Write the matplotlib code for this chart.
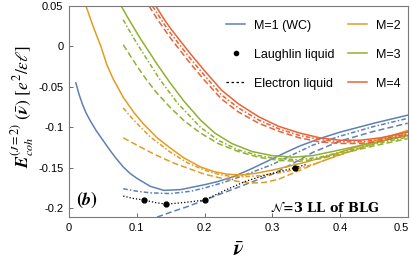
import matplotlib
matplotlib.use("Agg")
import matplotlib.pyplot as plt
import matplotlib.transforms as mtransforms
from matplotlib.lines import Line2D

# ======================
# DATA
# ======================
C_BLUE = "#5E81B5"
C_ORANGE = "#E19C24"
C_GREEN = "#8FB131"
C_RED = "#EB6235"

# M=1
m1_x = [0.01, 0.015, 0.02, 0.025, 0.03, 0.04, 0.05, 0.06, 0.07, 0.08, 0.09, 0.1, 0.12, 0.14, 0.165, 0.2,
        0.22, 0.243, 0.27, 0.3, 0.32, 0.341, 0.37, 0.4, 0.45, 0.5]
m1_y = [-0.045, -0.06, -0.072, -0.082, -0.09, -0.104, -0.116, -0.128, -0.139, -0.149, -0.157, -0.163,
        -0.173, -0.178, -0.177, -0.171, -0.167, -0.161, -0.151, -0.139, -0.131, -0.123, -0.114, -0.106,
        -0.095, -0.085]
m1_dd_x = [0.08, 0.1, 0.12, 0.15, 0.18, 0.2, 0.225, 0.25, 0.275, 0.3, 0.33, 0.36, 0.4, 0.45, 0.5]
m1_dd_y = [-0.176, -0.179, -0.181, -0.182, -0.179, -0.175, -0.169, -0.162, -0.154, -0.146, -0.134,
           -0.122, -0.111, -0.099, -0.089]
m1_d_x = [0.13, 0.15, 0.175, 0.2, 0.225, 0.25, 0.275, 0.3, 0.33, 0.36, 0.4, 0.45, 0.5]
m1_d_y = [-0.211, -0.205, -0.198, -0.19, -0.182, -0.174, -0.166, -0.158, -0.145, -0.131, -0.117,
          -0.105, -0.095]

# M=2
m2_x = [0.025, 0.03, 0.035, 0.04, 0.047, 0.056, 0.065, 0.08, 0.096, 0.11, 0.13, 0.15, 0.17, 0.194,
        0.215, 0.234, 0.255, 0.275, 0.3, 0.35, 0.4, 0.45, 0.5]
m2_y = [0.05, 0.038, 0.026, 0.015, 0.0, -0.023, -0.04, -0.063, -0.082, -0.096, -0.113, -0.126, -0.138,
        -0.149, -0.155, -0.158, -0.159, -0.157, -0.153, -0.143, -0.131, -0.117, -0.104]
m2_dd_x = [0.08, 0.09, 0.1, 0.12, 0.15, 0.175, 0.2, 0.22, 0.24, 0.26, 0.28, 0.32, 0.36, 0.4, 0.45, 0.5]
m2_dd_y = [-0.076, -0.086, -0.095, -0.112, -0.131, -0.144, -0.153, -0.158, -0.161, -0.161, -0.16,
           -0.155, -0.146, -0.134, -0.12, -0.105]
m2_d_x = [0.08, 0.1, 0.125, 0.154, 0.18, 0.2, 0.225, 0.25, 0.27, 0.29, 0.31, 0.341, 0.37, 0.4, 0.45, 0.5]
m2_d_y = [-0.113, -0.122, -0.133, -0.144, -0.152, -0.158, -0.163, -0.167, -0.169, -0.168, -0.164,
          -0.153, -0.143, -0.134, -0.12, -0.108]

# M=3
m3_x = [0.077, 0.085, 0.095, 0.105, 0.116, 0.13, 0.15, 0.17, 0.194, 0.215, 0.24, 0.27, 0.3, 0.33, 0.36,
        0.4, 0.45, 0.5]
m3_y = [0.05, 0.038, 0.024, 0.01, -0.004, -0.022, -0.046, -0.068, -0.091, -0.107, -0.12, -0.13, -0.135,
        -0.137, -0.135, -0.128, -0.119, -0.11]
m3_dd_x = [0.08, 0.09, 0.1, 0.115, 0.135, 0.16, 0.194, 0.22, 0.25, 0.28, 0.31, 0.34, 0.37, 0.4, 0.45, 0.5]
m3_dd_y = [0.033, 0.018, 0.004, -0.016, -0.042, -0.07, -0.1, -0.116, -0.128, -0.135, -0.139, -0.14,
           -0.137, -0.131, -0.121, -0.112]
m3_d_x = [0.08, 0.09, 0.1, 0.115, 0.13, 0.15, 0.17, 0.194, 0.22, 0.25, 0.28, 0.31, 0.34, 0.37, 0.4,
          0.45, 0.5]
m3_d_y = [0.002, -0.011, -0.024, -0.042, -0.058, -0.076, -0.092, -0.107, -0.12, -0.13, -0.137, -0.141,
          -0.142, -0.139, -0.133, -0.123, -0.114]

# M=4
m4_x = [0.128, 0.14, 0.15, 0.165, 0.18, 0.2, 0.225, 0.25, 0.28, 0.31, 0.34, 0.37, 0.4, 0.43, 0.46, 0.5]
m4_y = [0.05, 0.034, 0.022, 0.006, -0.01, -0.03, -0.054, -0.071, -0.087, -0.099, -0.107, -0.113, -0.116,
        -0.116, -0.113, -0.106]
m4_dd_x = [0.123, 0.14, 0.15, 0.165, 0.18, 0.2, 0.225, 0.25, 0.28, 0.31, 0.34, 0.37, 0.4, 0.43, 0.46, 0.5]
m4_dd_y = [0.05, 0.028, 0.016, 0.0, -0.016, -0.036, -0.06, -0.076, -0.091, -0.102, -0.11, -0.115, -0.118,
           -0.118, -0.115, -0.108]
m4_d_x = [0.118, 0.13, 0.14, 0.15, 0.165, 0.18, 0.2, 0.225, 0.25, 0.28, 0.31, 0.34, 0.37, 0.4, 0.43,
          0.46, 0.5]
m4_d_y = [0.05, 0.034, 0.022, 0.01, -0.006, -0.022, -0.042, -0.065, -0.081, -0.095, -0.105, -0.113,
          -0.118, -0.12, -0.12, -0.117, -0.11]

# Laughlin liquid at nu = 1/9, 1/7, 1/5, 1/3
laughlin_x = [1 / 9, 1 / 7, 1 / 5, 1 / 3]
laughlin_y = [-0.190, -0.195, -0.190, -0.150]

# Electron liquid
el_x = [0.08, 0.095, 1 / 9, 0.127, 1 / 7, 0.17, 0.2, 0.23, 0.26, 0.29, 0.31, 1 / 3, 0.35]
el_y = [-0.185, -0.188, -0.190, -0.193, -0.195, -0.193, -0.190, -0.178, -0.167, -0.159, -0.155, -0.150, -0.146]

x_ticks = [0, 0.1, 0.2, 0.3, 0.4, 0.5]
x_ticklabels = ["0", "0.1", "0.2", "0.3", "0.4", "0.5"]
y_ticks = [0.05, 0, -0.05, -0.1, -0.15, -0.2]
y_ticklabels = ["0.05", "0", "-0.05", "-0.1", "-0.15", "-0.2"]

# ======================
# PLOT
# ======================
plt.rcParams["font.family"] = ["Liberation Sans", "DejaVu Sans"]
plt.rcParams["mathtext.fontset"] = "stix"

fig = plt.figure(figsize=(4.11, 2.70), dpi=100)
ax = fig.add_axes([0.168, 0.196, 0.824, 0.782])

DD = (0, (3.0, 1.4, 1.0, 1.4))
DA = (0, (4.0, 2.0))
lw = 1.1

series = [
    (m1_x, m1_y, m1_dd_x, m1_dd_y, m1_d_x, m1_d_y, C_BLUE),
    (m2_x, m2_y, m2_dd_x, m2_dd_y, m2_d_x, m2_d_y, C_ORANGE),
    (m3_x, m3_y, m3_dd_x, m3_dd_y, m3_d_x, m3_d_y, C_GREEN),
    (m4_x, m4_y, m4_dd_x, m4_dd_y, m4_d_x, m4_d_y, C_RED),
]
for sx, sy, ddx, ddy, dx, dy, c in series:
    ax.plot(sx, sy, color=c, lw=lw)
    ax.plot(ddx, ddy, color=c, lw=lw, linestyle=DD)
    ax.plot(dx, dy, color=c, lw=lw, linestyle=DA)

ax.plot(el_x, el_y, color="black", lw=0.9, linestyle=(0, (1.0, 1.6)))
ax.plot(laughlin_x, laughlin_y, "o", color="black", ms=3.5)

ax.set_xlim(0, 0.5)
ax.set_ylim(-0.211, 0.05)
ax.set_xticks(x_ticks)
ax.set_xticklabels(x_ticklabels)
ax.set_yticks(y_ticks)
ax.set_yticklabels(y_ticklabels)
ax.tick_params(direction="in", labelsize=8, length=3, width=0.6, color="#555555", pad=4)
for s in ax.spines.values():
    s.set_color("#7a7a7a")
    s.set_linewidth(0.8)

# last x label sits against the right edge, as in the reference
last = ax.get_xticklabels()[-1]
last.set_transform(last.get_transform() + mtransforms.ScaledTranslation(-6 / 100, 0, fig.dpi_scale_trans))

ax.set_xlabel(r"$\bar{\boldsymbol{\nu}}$", fontsize=15, labelpad=6)
fig.text(0.055, 0.605, r"$\boldsymbol{E}^{(J=2)}_{coh}\ (\bar{\boldsymbol{\nu}})\ [e^2/\epsilon\ell]$",
         rotation=90, ha="center", va="center", fontsize=12.5)

ax.text(0.01, -0.19, r"$\boldsymbol{(b)}$", fontsize=13, va="center")
ax.text(0.458, -0.2, r"$\mathcal{N}$=3 LL of BLG", fontsize=9.3, ha="right", va="center",
        family="DejaVu Serif", fontweight="bold")

handles = [
    Line2D([], [], color=C_BLUE, lw=lw),
    Line2D([], [], color="black", marker="o", ms=3, linestyle="none"),
    Line2D([], [], color="black", lw=0.9, linestyle=(0, (2.0, 2.0))),
    Line2D([], [], color=C_ORANGE, lw=lw),
    Line2D([], [], color=C_GREEN, lw=lw),
    Line2D([], [], color=C_RED, lw=lw),
]
labels = ["M=1 (WC)", "Laughlin liquid", "Electron liquid", "M=2", "M=3", "M=4"]
ax.legend(handles, labels, ncol=2, loc="upper right", frameon=False, fontsize=9,
          handlelength=1.5, handletextpad=0.7, columnspacing=1.1, labelspacing=1.35,
          borderaxespad=0.2, bbox_to_anchor=(1.0, 0.97))

fig.savefig("out.png", dpi=100)
